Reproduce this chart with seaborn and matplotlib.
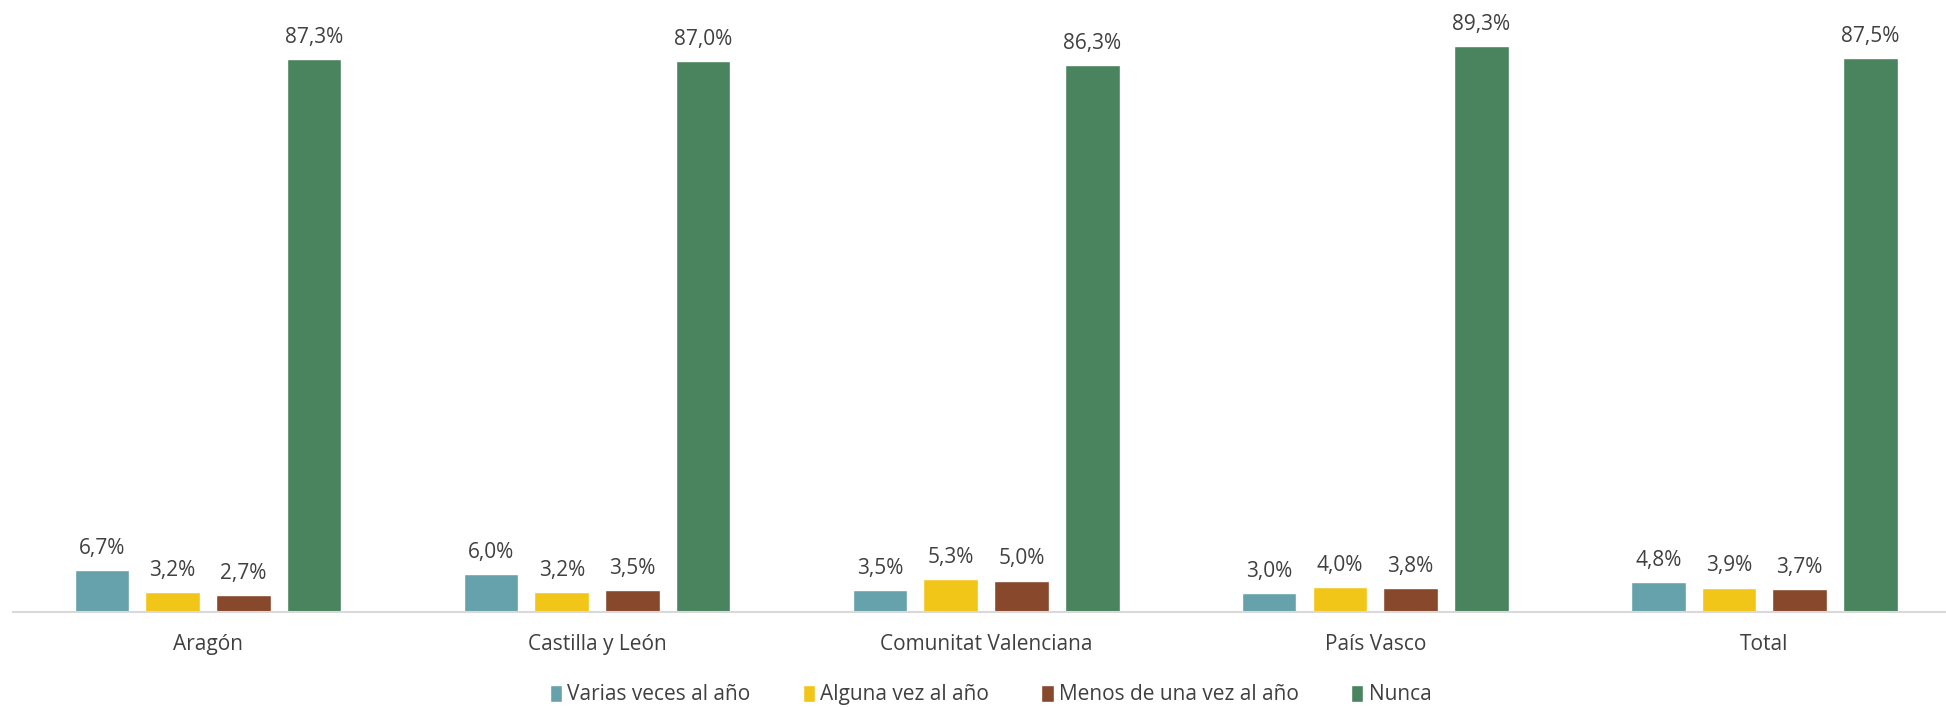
import pandas as pd
import seaborn as sns
import matplotlib.pyplot as plt

regions = ["Aragón", "Castilla y León", "Comunitat Valenciana", "País Vasco", "Total"]
freqs = ["Varias veces al año", "Alguna vez al año", "Menos de una vez al año", "Nunca"]

varias = [6.7, 6.0, 3.5, 3.0, 4.8]
alguna = [3.2, 3.2, 5.3, 4.0, 3.9]
menos = [2.7, 3.5, 5.0, 3.8, 3.7]
nunca = [87.3, 87.0, 86.3, 89.3, 87.5]

colours = ["#66A2AB", "#F2C519", "#87482C", "#4A845E"]
TXT = "#404040"

rows = []
for f, vals in zip(freqs, [varias, alguna, menos, nunca]):
    for r, v in zip(regions, vals):
        rows.append({"region": r, "freq": f, "pct": v})
data = pd.DataFrame(rows)

sns.set_style("white")
plt.rcParams["font.family"] = ["Open Sans", "DejaVu Sans"]

fig = plt.figure(figsize=(19.46, 7.07), dpi=100)
ax = fig.add_axes([0.0069, 0.134, 0.9997, 0.866])

sns.barplot(
    data=data, x="region", y="pct", hue="freq",
    order=regions, hue_order=freqs, palette=colours,
    width=0.727, gap=0.228, saturation=1, ax=ax, legend=True,
)

for cont in ax.containers:
    ax.bar_label(
        cont, labels=[f"{v:.1f}%".replace(".", ",") for v in cont.datavalues],
        padding=8, fontsize=15, color=TXT,
    )

ax.set_ylim(0, 96.6)
ax.set_xlim(-0.5, 4.5)
ax.set_xlabel("")
ax.set_ylabel("")
ax.set_yticks([])
ax.tick_params(axis="x", length=0, labelsize=15, labelcolor=TXT, pad=16)
for s in ["top", "left", "right"]:
    ax.spines[s].set_visible(False)
ax.spines["bottom"].set_color("#D9D9D9")
ax.spines["bottom"].set_linewidth(1.5)

leg = ax.legend(
    loc="center", ncol=4, frameon=False,
    fontsize=15, handlelength=0.6, handleheight=0.9, handletextpad=0.25,
    columnspacing=2.5, labelcolor=TXT,
)
leg.set_bbox_to_anchor((0.509, 0.017), transform=fig.transFigure)

fig.savefig("out.png", dpi=100)
